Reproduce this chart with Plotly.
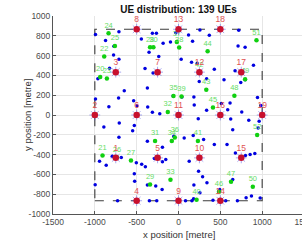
import plotly.graph_objects as go

# Base stations (macro cells)
bs_id = list(range(1, 20))
bs_x = [-750, -1000, -750, -500, -250, -500, -250, -500, 0, 250, 0, 250, 0, 500, 750, 500, 750, 500, 1000]
bs_y = [-433, 0, 433, -866, -433, 0, 433, 866, -866, -433, 0, 433, 866, -866, -433, 0, 433, 866, 0]

# Small cells
sc_id = list(range(20, 53))
sc_x = [-936, -908, -888, -856, -836, -760, -736, -568, -340, -340, -300, -280, -128, -96, -80, -60, -44,
        -20, 8, 36, 216, 232, 248, 332, 348, 412, 484, 628, 668, 796, 888, 932, 940]
sc_y = [383, -409, 591, 369, 826, 698, -430, -460, 685, -701, 685, -262, 30, -654, -262, 191, -228,
        738, 681, 188, -856, -262, 430, 255, 644, 77, -775, -674, 195, 362, -725, 755, -201]

# UEs
ue_x = [-992, -712, -312, -264, -32, 120, 256, 368, 720,
        -872, -772, -444, -184, -96, 168, 712, 796,
        -352, -236, -776, -712, -824, -400, 156, 224, 428, -304, 676, 896, 32,
        -964, 336, 544, 796, -372, 248, 744, -648, -716, -64, 40, 184, -992, 944,
        -832, -536, -496, 512, 616, 984, -312, -224, 188, 336, 588, 756, -368,
        -528, 236, 624, -708, -892, 648, 840, 964, 952, -548,
        -712, -372, -56, 68, 176, 300, 428, 580, -192,
        -944, -864, -684, -792, -504, -192, -288, -152, -440, -396, 128, 680, 800, 912, 856,
        -528, -524, 240, -372, -272, -196, 288, 648, -996, 184, 340, 492, 256, 872, 976, 808,
        -728, -348, -260, 84, 180, 412, 564, 704, 160]
ue_y = [812, 842, 826, 826, 832, 809, 859, 805, 856,
        752, 695, 768, 725, 738, 745, 697, 684,
        634, 591, 607, 564, 473, 470, 534, 523, 463, 423, 446, 503, 564,
        366, 366, 356, 356, 272, 339, 329, 245, 171, 191, 181, 181, 161, 178,
        84, 144, 94, 117, 121, 97, 27, 13, 101, 47, 54, 30, 80,
        -107, -37, -40, -80, -121, -148, -54, -64, -131, -158,
        -225, -265, -215, -232, -208, -248, -299, -299, -326,
        -466, -507, -430, -416, -483, -473, -440, -450, -497, -523, -466, -383, -409, -389, -399,
        -594, -668, -567, -708, -718, -752, -624, -651, -705, -708, -685, -752, -785, -819, -839, -836,
        -866, -866, -866, -866, -846, -862, -866, -866, -866]

# Simulation area boundary
box_x = [-1000, 1000, 1000, -1000, -1000]
box_y = [-866, -866, 866, 866, -866]

x_ticks = [-1500, -1000, -500, 0, 500, 1000, 1500]
y_ticks = [-1000, -800, -600, -400, -200, 0, 200, 400, 600, 800, 1000]

FONT = "Liberation Sans, Arial, sans-serif"

fig = go.Figure()
fig.add_trace(go.Scatter(x=box_x, y=box_y, mode="lines",
                         line=dict(color="#3c3c3c", width=1.1, dash="dash"), hoverinfo="skip"))
fig.add_trace(go.Scatter(x=ue_x, y=ue_y, mode="markers",
                         marker=dict(color="#0000e0", size=3.5), hoverinfo="skip"))
fig.add_trace(go.Scatter(x=sc_x, y=sc_y, mode="markers+text", text=[str(i) for i in sc_id],
                         textposition="top center",
                         textfont=dict(family=FONT, size=7.5, color="#66dd66"),
                         marker=dict(color="#10d010", size=4.5), hoverinfo="skip"))
fig.add_trace(go.Scatter(x=bs_x, y=bs_y, mode="markers",
                         marker=dict(symbol="asterisk-open", size=9, color="#5050e0",
                                     line=dict(color="#6060e0", width=0.5)), hoverinfo="skip"))
fig.add_trace(go.Scatter(x=bs_x, y=bs_y, mode="markers+text", text=[str(i) for i in bs_id],
                         textposition="top center",
                         textfont=dict(family=FONT, size=8.5, color="#e05050"),
                         marker=dict(color="#c8102e", size=6.5), hoverinfo="skip"))

axis_common = dict(showgrid=True, gridcolor="#e6e6e6", gridwidth=1, zeroline=False,
                   showline=True, linecolor="#555555", linewidth=1, ticks="inside", ticklen=3,
                   tickcolor="#555555", tickfont=dict(family=FONT, size=8.5, color="#4a4a4a"),
                   automargin=False, ticklabeloverflow="allow")

fig.update_layout(
    width=304, height=243,
    margin=dict(l=53, r=0, t=16, b=29),
    paper_bgcolor="white", plot_bgcolor="white",
    showlegend=False,
    xaxis=dict(range=[-1500, 1500], tickvals=x_ticks, ticktext=[str(v) for v in x_ticks], **axis_common),
    yaxis=dict(range=[-1000, 1000], tickvals=y_ticks, ticktext=[str(v) for v in y_ticks], **axis_common),
    title=dict(text="<b>UE distribution: 139 UEs</b>", x=0.5, xref="paper", xanchor="center",
               y=1 - 9 / 243, yref="container", yanchor="middle",
               font=dict(family=FONT, size=10, color="#111111")),
    annotations=[
        dict(text="x position [metre]", x=0.5, y=-0.106, xref="paper", yref="paper",
             xanchor="center", yanchor="middle", showarrow=False,
             font=dict(family=FONT, size=9.5, color="#333333")),
        dict(text="y position [metre]", x=-0.104, y=0.5, xref="paper", yref="paper",
             xanchor="center", yanchor="middle", showarrow=False, textangle=-90,
             font=dict(family=FONT, size=9.5, color="#333333")),
    ],
)

fig.write_html(
    "out.html",
    config={"displayModeBar": False},
    post_script="document.body.style.margin='0';document.body.style.overflow='hidden';"
                "document.documentElement.style.overflow='hidden';",
)
